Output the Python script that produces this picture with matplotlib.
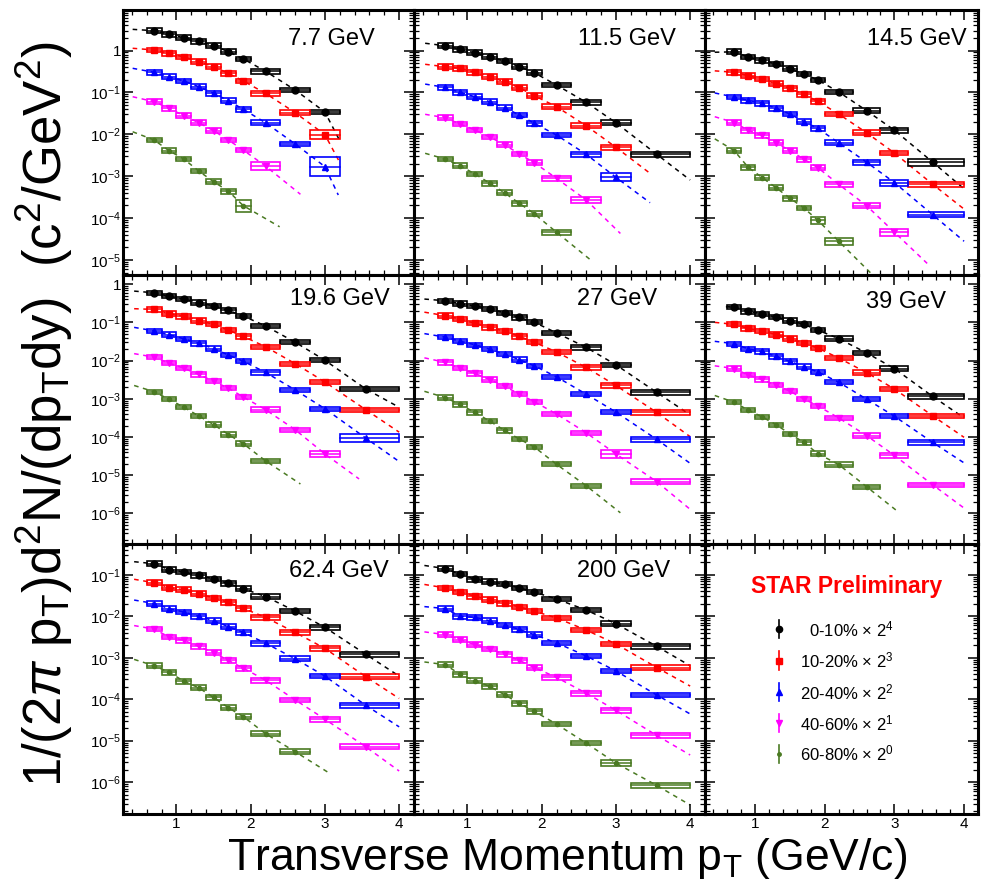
import numpy as np
import matplotlib
matplotlib.use("Agg")
import matplotlib.pyplot as plt
from matplotlib.ticker import FixedLocator, MultipleLocator, LogLocator, NullFormatter, FuncFormatter
from matplotlib.patches import Rectangle

plt.rcParams['font.family'] = ['Liberation Sans', 'DejaVu Sans']
plt.rcParams['mathtext.fontset'] = 'custom'
plt.rcParams['mathtext.rm'] = 'Liberation Sans'
plt.rcParams['mathtext.it'] = 'Liberation Sans:italic'
plt.rcParams['mathtext.bf'] = 'Liberation Sans:bold'
plt.rcParams['mathtext.sf'] = 'Liberation Sans'

# ---------------- data ----------------
ENERGIES = ["7.7 GeV", "11.5 GeV", "14.5 GeV", "19.6 GeV", "27 GeV", "39 GeV", "62.4 GeV", "200 GeV"]
CENTRALITIES = ["0-10%", "10-20%", "20-40%", "40-60%", "60-80%"]
SCALE_EXP = [4, 3, 2, 1, 0]

PT_MARK = [0.7, 0.9, 1.1, 1.3, 1.5, 1.7, 1.9, 2.2, 2.6, 3.0, 3.55]
PT_LO = [0.6, 0.8, 1.0, 1.2, 1.4, 1.6, 1.8, 2.0, 2.4, 2.8, 3.2]
PT_HI = [0.8, 1.0, 1.2, 1.4, 1.6, 1.8, 2.0, 2.4, 2.8, 3.2, 4.0]

Y_7P7 = [
    [2.97, 2.44, 2.02, 1.66, 1.30, 0.94, 0.63, 0.32, 0.114, 0.034],
    [1.03, 0.857, 0.70, 0.54, 0.41, 0.286, 0.187, 0.095, 0.0328, 0.0098],
    [0.302, 0.237, 0.187, 0.137, 0.0953, 0.0634, 0.0395, 0.0189, 0.00587, 0.00169],
    [0.060, 0.0418, 0.0278, 0.0189, 0.0122, 0.0073, 0.0042, 0.00175],
    [7.3e-3, 4.06e-3, 2.57e-3, 1.33e-3, 7.4e-4, 4.4e-4, 1.98e-4],
]
Y_11P5 = [
    [1.30, 1.07, 0.885, 0.711, 0.561, 0.41, 0.295, 0.150, 0.058, 0.0189, 0.00333],
    [0.41, 0.376, 0.302, 0.237, 0.18, 0.129, 0.0834, 0.0456, 0.016, 0.0049],
    [0.132, 0.10, 0.0789, 0.060, 0.0431, 0.0289, 0.0183, 0.0096, 0.00333, 9.4e-4],
    [0.0249, 0.0176, 0.0127, 0.00863, 0.00565, 0.00339, 0.0021, 8.9e-4, 2.7e-4],
    [2.57e-3, 1.78e-3, 1.13e-3, 6.8e-4, 4.0e-4, 2.25e-4, 1.27e-4, 4.6e-5],
]
Y_14P5 = [
    [0.93, 0.70, 0.58, 0.474, 0.365, 0.276, 0.197, 0.1026, 0.0367, 0.0125, 0.00216],
    [0.303, 0.251, 0.208, 0.161, 0.124, 0.090, 0.061, 0.0305, 0.0109, 0.00357, 6.4e-4],
    [0.0776, 0.0644, 0.0555, 0.0419, 0.0305, 0.0202, 0.0139, 0.00625, 0.00216, 7.05e-4, 1.2e-4],
    [0.0191, 0.0125, 0.0094, 0.00625, 0.00407, 0.00255, 0.0016, 6.4e-4, 1.98e-4, 4.6e-5],
    [4.07e-3, 1.63e-3, 9.3e-4, 5.3e-4, 2.99e-4, 1.74e-4, 8.9e-5, 2.8e-5],
]
Y_19P6 = [
    [0.594, 0.482, 0.408, 0.331, 0.269, 0.205, 0.147, 0.0804, 0.0302, 0.0102, 0.00181],
    [0.218, 0.170, 0.144, 0.112, 0.089, 0.0625, 0.043, 0.023, 0.0083, 0.00275, 5.19e-4],
    [0.060, 0.0477, 0.0372, 0.0283, 0.0207, 0.014, 0.0096, 0.00492, 0.0017, 5.5e-4, 9.4e-5],
    [0.0123, 8.6e-3, 6.3e-3, 4.35e-3, 2.87e-3, 1.89e-3, 1.12e-3, 5.2e-4, 1.55e-4, 3.6e-5],
    [1.53e-3, 9.7e-4, 6.0e-4, 3.56e-4, 2.12e-4, 1.16e-4, 6.7e-5, 2.38e-5],
]
Y_27 = [
    [0.368, 0.311, 0.269, 0.228, 0.177, 0.135, 0.101, 0.053, 0.0221, 0.00778, 1.47e-3],
    [0.15, 0.122, 0.0948, 0.074, 0.0587, 0.043, 0.0302, 0.0168, 6.6e-3, 2.23e-3, 4.4e-4],
    [0.0412, 0.0321, 0.026, 0.0199, 0.0146, 0.0106, 7.3e-3, 3.76e-3, 1.32e-3, 4.5e-4, 8.65e-5],
    [9.0e-3, 6.3e-3, 4.6e-3, 3.18e-3, 2.14e-3, 1.32e-3, 8.4e-4, 4.0e-4, 1.29e-4, 3.6e-5, 6.8e-6],
    [1.08e-3, 7.1e-4, 4.4e-4, 2.6e-4, 1.49e-4, 8.8e-5, 5.5e-5, 1.93e-5, 5.3e-6],
]
Y_39 = [
    [0.248, 0.194, 0.168, 0.137, 0.111, 0.089, 0.0627, 0.0376, 0.0159, 0.00618, 0.00115],
    [0.089, 0.0695, 0.059, 0.0481, 0.0376, 0.0288, 0.0212, 0.0117, 0.00484, 0.00181, 3.58e-4],
    [0.0277, 0.0203, 0.0173, 0.0129, 0.00952, 0.007, 0.00505, 0.00272, 9.8e-4, 3.5e-4, 7.2e-5],
    [6.2e-3, 4.19e-3, 3.21e-3, 2.26e-3, 1.57e-3, 9.98e-4, 6.5e-4, 3.16e-4, 1.09e-4, 3.3e-5, 5.6e-6],
    [8.1e-4, 5.07e-4, 3.37e-4, 2.1e-4, 1.21e-4, 7.2e-5, 3.67e-5, 1.9e-5, 5.0e-6],
]
Y_62P4 = [
    [0.185, 0.133, 0.117, 0.0962, 0.0794, 0.062, 0.0464, 0.0299, 0.0133, 5.4e-3, 1.21e-3],
    [0.0643, 0.0492, 0.0438, 0.0348, 0.0277, 0.0215, 0.0156, 9.4e-3, 4.06e-3, 1.68e-3, 3.48e-4],
    [0.0203, 0.0153, 0.0126, 0.010, 7.8e-3, 5.6e-3, 4.06e-3, 2.24e-3, 9.4e-4, 3.6e-4, 7.1e-5],
    [4.9e-3, 3.16e-3, 2.61e-3, 1.88e-3, 1.33e-3, 8.6e-4, 5.6e-4, 2.87e-4, 9.6e-5, 3.29e-5, 7.1e-6],
    [6.4e-4, 4.47e-4, 2.71e-4, 1.88e-4, 1.1e-4, 6.2e-5, 3.8e-5, 1.47e-5, 5.4e-6],
]
Y_200 = [
    [0.141, 0.104, 0.078, 0.068, 0.0596, 0.0483, 0.0383, 0.0261, 0.0141, 6.6e-3, 1.88e-3],
    [0.0483, 0.0383, 0.0304, 0.0251, 0.0207, 0.0168, 0.0133, 9.1e-3, 4.64e-3, 2.15e-3, 5.8e-4],
    [0.0153, 0.010, 9.4e-3, 7.8e-3, 6.2e-3, 4.8e-3, 3.6e-3, 2.28e-3, 1.1e-3, 4.8e-4, 1.26e-4],
    [3.6e-3, 2.71e-3, 2.07e-3, 1.62e-3, 1.21e-3, 8.6e-4, 5.8e-4, 3.35e-4, 1.39e-4, 5.4e-5, 1.33e-5],
    [6.8e-4, 3.98e-4, 2.77e-4, 2.03e-4, 1.28e-4, 7.9e-5, 5.1e-5, 2.5e-5, 8.7e-6, 2.87e-6, 8.3e-7],
]

FIT_X0 = [[0.41] * 5, [0.43] * 5, [0.42] * 5, [0.43] * 5, [0.42] * 5,
          [0.58, 0.42, 0.42, 0.42, 0.42], [0.43] * 5, [0.42] * 5]
FIT_Y0 = [
    [3.2, 1.13, 0.376, 0.0789, 0.0115],
    [1.49, 0.469, 0.158, 0.030, 3.52e-3],
    [0.91, 0.327, 0.097, 0.0263, 7.8e-3],
    [0.659, 0.228, 0.074, 0.0152, 2.23e-3],
    [0.408, 0.185, 0.0508, 0.0118, 1.57e-3],
    [0.26, 0.1, 0.0319, 7.3e-3, 1.22e-3],
    [0.207, 0.078, 0.0246, 5.96e-3, 9.1e-4],
    [0.168, 0.0585, 0.0171, 4.2e-3, 7.9e-4],
]
FIT_X1 = [
    [3.19, 3.19, 3.18, 2.67, 2.39],
    [4.0, 3.46, 3.46, 3.06, 2.66],
    [4.0, 4.0, 4.0, 3.47, 2.67],
    [4.0, 4.0, 4.0, 3.46, 2.67],
    [4.0, 4.0, 4.0, 4.0, 3.06],
    [4.0, 4.0, 4.0, 4.0, 3.06],
    [4.0, 4.0, 4.0, 4.0, 3.08],
    [4.0, 4.0, 4.0, 4.0, 4.0],
]
FIT_Y1 = [
    [7.6e-3, 2.3e-3, 3.56e-4, 3.7e-4, 6.2e-5],
    [8.1e-4, 1.17e-3, 2.33e-4, 4.3e-5, 1.0e-5],
    [5.0e-4, 1.64e-4, 2.8e-5, 8.3e-6, 4.7e-6],
    [6.0e-4, 1.34e-4, 2.28e-5, 8.0e-6, 5.9e-6],
    [3.8e-4, 1.02e-4, 2.05e-5, 1.28e-6, 1.04e-6],
    [3.16e-4, 9.8e-5, 2.1e-5, 1.38e-6, 1.08e-6],
    [3.6e-4, 1.04e-4, 2.15e-5, 1.85e-6, 1.56e-6],
    [6.4e-4, 2.07e-4, 4.4e-5, 4.5e-6, 2.8e-7],
]

SYS_DEFAULT = 0.14
SYS_WIDE = {
    (0, 1, 9): 0.29, (0, 2, 9): 0.66, (0, 4, 6): 0.38, (0, 3, 7): 0.22,
    (1, 2, 9): 0.25, (1, 3, 8): 0.20,
    (2, 0, 10): 0.20, (2, 2, 9): 0.18, (2, 3, 9): 0.20, (2, 4, 6): 0.22, (2, 4, 7): 0.20,
    (3, 2, 10): 0.29, (3, 3, 9): 0.18,
    (4, 3, 9): 0.29,
    (7, 4, 9): 0.18,
}

SPECTRA = [Y_7P7, Y_11P5, Y_14P5, Y_19P6, Y_27, Y_39, Y_62P4, Y_200]

# ---------------- style ----------------
COLORS = ["black", "#ff0000", "#0000ff", "#ff00ff", "#4a7a22"]
MARKERS = ["o", "s", "^", "v", "o"]
MSIZES = [5.0, 5.0, 5.0, 5.0, 3.0]
LABEL_POS = [(0.567, 0.892), (0.564, 0.89), (0.593, 0.89), (0.573, 0.909),
             (0.56, 0.909), (0.59, 0.90), (0.569, 0.90), (0.56, 0.90)]

W, H = 981, 891
COL_X = [123, 414, 705, 978]
ROW_Y = [10, 275, 544, 814]
YLIMS = [(10 ** -5.358, 10 ** 0.967), (10 ** -6.80, 10 ** 0.24), (10 ** -6.77, 10 ** -0.257)]
XLIM = (0.28, 4.2)

fig = plt.figure(figsize=(W / 100, H / 100), dpi=100)


def yfmt(v, pos):
    e = int(round(np.log10(v)))
    if e == 0:
        return "1"
    return r"$10^{%d}$" % e


def make_axes(r, c):
    left = COL_X[c] / W
    width = (COL_X[c + 1] - COL_X[c]) / W
    bottom = 1 - ROW_Y[r + 1] / H
    height = (ROW_Y[r + 1] - ROW_Y[r]) / H
    ax = fig.add_axes([left, bottom, width, height])
    ax.set_yscale("log")
    lo, hi = YLIMS[r]
    ax.set_xlim(*XLIM)
    ax.set_ylim(lo, hi)
    ax.xaxis.set_major_locator(FixedLocator([1, 2, 3, 4]))
    ax.xaxis.set_minor_locator(MultipleLocator(0.2))
    decades = [10.0 ** k for k in range(int(np.ceil(np.log10(lo))), int(np.floor(np.log10(hi))) + 1)]
    ax.yaxis.set_major_locator(FixedLocator(decades))
    ax.yaxis.set_minor_locator(LogLocator(base=10, subs=np.arange(2, 10), numticks=100))
    ax.yaxis.set_major_formatter(FuncFormatter(yfmt))
    ax.yaxis.set_minor_formatter(NullFormatter())
    ax.tick_params(which="both", direction="in", top=True, right=True, colors="black")
    ax.tick_params(which="major", length=7, width=1.1, labelsize=11, pad=2)
    ax.tick_params(which="minor", length=3.5, width=0.9)
    ax.tick_params(axis="y", which="major", pad=1.5)
    ax.tick_params(labelleft=(c == 0), labelbottom=(r == 2))
    for s in ax.spines.values():
        s.set_linewidth(2.2)
    return ax


for p, (name, spec) in enumerate(zip(ENERGIES, SPECTRA)):
    r, c = divmod(p, 3)
    ax = make_axes(r, c)
    for k in range(5):
        vals = spec[k]
        n = len(vals)
        col = COLORS[k]
        fx = [FIT_X0[p][k]] + PT_MARK[:n] + [FIT_X1[p][k]]
        fy = [FIT_Y0[p][k]] + list(vals) + [FIT_Y1[p][k]]
        ax.plot(fx, fy, color=col, lw=1.1, dashes=(3, 3), zorder=1)
        for i in range(n):
            e = SYS_WIDE.get((p, k, i), SYS_DEFAULT)
            y = vals[i]
            ax.add_patch(Rectangle((PT_LO[i], y / (1 + e)), PT_HI[i] - PT_LO[i],
                                   y * (1 + e) - y / (1 + e), fill=False,
                                   edgecolor=col, lw=1.2, zorder=2))
            ax.plot([PT_LO[i], PT_HI[i]], [y, y], color=col, lw=1.1, zorder=2)
        ax.plot(PT_MARK[:n], vals, linestyle="none", marker=MARKERS[k],
                ms=MSIZES[k], color=col, mec=col, zorder=3)
    lx, ly = LABEL_POS[p]
    ax.text(lx, ly, name, transform=ax.transAxes, ha="left", va="center",
            fontsize=17, color="black")

# legend panel
ax9 = make_axes(2, 2)
ax9.text(0.52, 0.842, "STAR Preliminary", transform=ax9.transAxes, ha="center",
         va="center", fontsize=16.5, fontweight="bold", color="#ff0000")
LEG_Y = [0.685, 0.568, 0.451, 0.337, 0.223]
for k in range(5):
    yy = LEG_Y[k]
    ax9.plot([0.271, 0.271], [yy - 0.034, yy + 0.034], color=COLORS[k], lw=1.2,
             transform=ax9.transAxes, clip_on=False)
    ax9.plot([0.271], [yy], marker=MARKERS[k], ms=MSIZES[k] - 0.5, color=COLORS[k],
             transform=ax9.transAxes, linestyle="none")
    ax9.text(0.69, yy, r"%s $\times$ 2$^{%d}$" % (CENTRALITIES[k], SCALE_EXP[k]),
             transform=ax9.transAxes, ha="right", va="center", fontsize=12)

fig.text(0.578, 1 - 870 / H, r"Transverse Momentum p$_{\rm T}$ (GeV/c)",
         ha="center", va="baseline", fontsize=32)
fig.text(0.045, 0.535,
         r"1/(2$\pi$ p$_{\rm T}$)d$^{2}$N/(dp$_{\rm T}$dy)  (c$^{2}$/GeV$^{2}$)",
         ha="center", va="center", rotation=90, fontsize=38)

fig.savefig("out.png", dpi=100)
